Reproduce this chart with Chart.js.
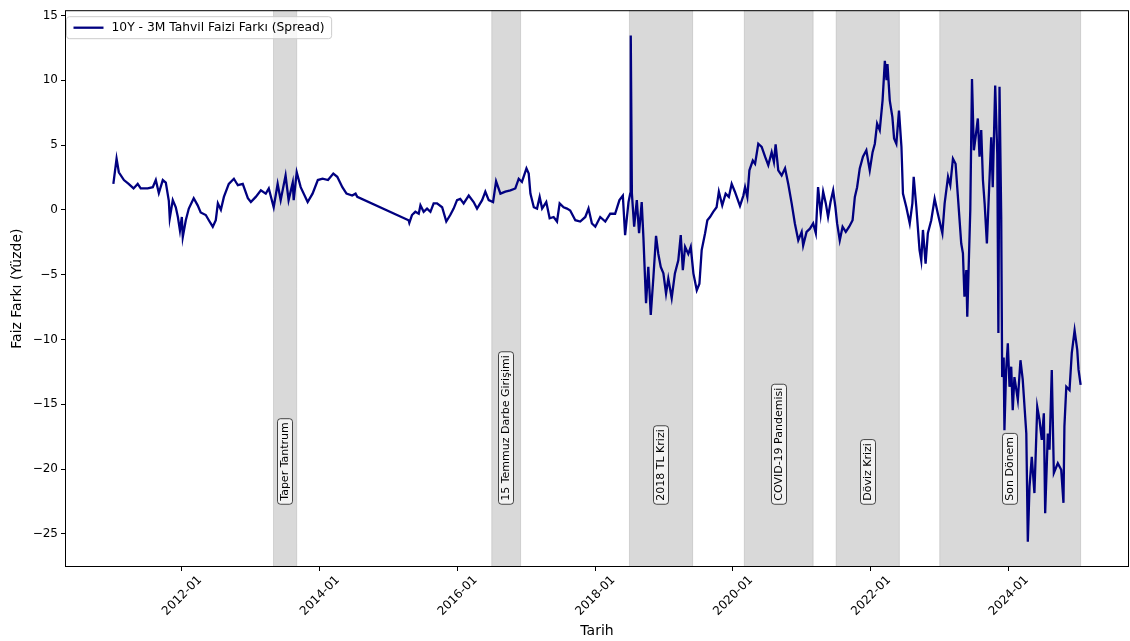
<!DOCTYPE html>
<html>
<head>
<meta charset="utf-8">
<script src="https://cdn.jsdelivr.net/npm/chart.js@4/dist/chart.umd.min.js"></script>
<style>
  html, body { margin: 0; padding: 0; background: #fff; }
  canvas { display: block; }
</style>
</head>
<body>
<canvas id="spread-chart" width="1130" height="641"></canvas>
<script>
// 10Y - 3M spread
const dates = [
  "2011-01-03", "2011-01-20", "2011-02-01", "2011-02-28", "2011-03-25", "2011-04-20", "2011-05-12", "2011-05-28",
  "2011-07-04", "2011-07-31", "2011-08-16", "2011-09-01", "2011-09-22", "2011-10-08", "2011-10-24", "2011-10-29",
  "2011-11-14", "2011-11-30", "2011-12-11", "2011-12-22", "2012-01-01", "2012-01-06", "2012-01-22", "2012-02-07",
  "2012-03-04", "2012-03-25", "2012-04-10", "2012-05-07", "2012-05-23", "2012-06-13", "2012-06-29", "2012-07-10",
  "2012-07-26", "2012-08-11", "2012-09-06", "2012-10-03", "2012-10-24", "2012-11-19", "2012-12-16", "2013-01-01",
  "2013-01-27", "2013-02-23", "2013-03-21", "2013-04-06", "2013-05-02", "2013-05-23", "2013-06-08", "2013-07-04",
  "2013-07-20", "2013-08-11", "2013-08-16", "2013-09-01", "2013-09-22", "2013-10-29", "2013-11-24", "2013-12-22",
  "2014-01-16", "2014-02-14", "2014-03-14", "2014-04-04", "2014-05-01", "2014-05-23", "2014-06-22", "2014-07-10",
  "2014-07-19", "2015-04-17", "2015-04-21", "2015-05-05", "2015-05-23", "2015-06-10", "2015-06-19", "2015-07-06",
  "2015-07-24", "2015-08-11", "2015-08-28", "2015-09-15", "2015-10-12", "2015-11-03", "2015-11-24", "2015-12-12",
  "2015-12-30", "2016-01-16", "2016-02-03", "2016-03-01", "2016-03-27", "2016-04-14", "2016-05-11", "2016-05-28",
  "2016-06-15", "2016-07-08", "2016-07-24", "2016-08-16", "2016-09-11", "2016-10-08", "2016-11-03", "2016-11-21",
  "2016-12-08", "2017-01-01", "2017-01-13", "2017-01-22", "2017-02-09", "2017-02-26", "2017-03-12", "2017-03-25",
  "2017-04-16", "2017-05-04", "2017-05-25", "2017-06-12", "2017-06-26", "2017-07-17", "2017-08-04", "2017-08-21",
  "2017-09-17", "2017-10-13", "2017-11-09", "2017-11-26", "2017-12-14", "2018-01-01", "2018-01-27", "2018-02-23",
  "2018-03-21", "2018-04-16", "2018-05-09", "2018-05-27", "2018-06-08", "2018-06-26", "2018-07-05", "2018-07-08",
  "2018-07-14", "2018-07-26", "2018-08-09", "2018-08-21", "2018-09-04", "2018-09-13", "2018-09-22", "2018-09-27",
  "2018-10-09", "2018-10-22", "2018-11-05", "2018-11-19", "2018-12-01", "2018-12-14", "2018-12-28", "2019-01-11",
  "2019-01-23", "2019-02-10", "2019-02-27", "2019-03-17", "2019-03-30", "2019-04-10", "2019-04-22", "2019-05-09",
  "2019-05-22", "2019-06-05", "2019-06-23", "2019-07-07", "2019-07-19", "2019-08-06", "2019-08-18", "2019-09-01",
  "2019-09-18", "2019-10-06", "2019-10-18", "2019-11-05", "2019-11-23", "2019-12-10", "2019-12-25", "2020-01-11",
  "2020-02-07", "2020-02-25", "2020-03-05", "2020-03-17", "2020-03-28", "2020-04-15", "2020-04-27", "2020-05-14",
  "2020-06-01", "2020-06-19", "2020-07-06", "2020-07-24", "2020-08-05", "2020-08-14", "2020-08-28", "2020-09-15",
  "2020-10-03", "2020-10-20", "2020-11-07", "2020-11-24", "2020-12-12", "2020-12-30", "2021-01-07", "2021-01-25",
  "2021-02-12", "2021-03-01", "2021-03-15", "2021-03-27", "2021-04-10", "2021-04-23", "2021-05-07", "2021-05-19",
  "2021-06-01", "2021-06-15", "2021-06-27", "2021-07-06", "2021-07-20", "2021-08-04", "2021-08-21", "2021-09-08",
  "2021-09-26", "2021-10-08", "2021-10-20", "2021-11-03", "2021-11-20", "2021-12-08", "2021-12-26", "2022-01-10",
  "2022-01-22", "2022-02-03", "2022-02-17", "2022-03-04", "2022-03-16", "2022-03-25", "2022-03-30", "2022-04-11",
  "2022-04-25", "2022-05-04", "2022-05-16", "2022-05-30", "2022-06-12", "2022-06-20", "2022-07-08", "2022-07-26",
  "2022-08-09", "2022-08-16", "2022-08-30", "2022-09-16", "2022-09-25", "2022-10-04", "2022-10-18", "2022-10-30",
  "2022-11-17", "2022-12-05", "2022-12-22", "2023-01-15", "2023-01-27", "2023-02-14", "2023-02-26", "2023-03-12",
  "2023-03-26", "2023-04-07", "2023-04-25", "2023-05-04", "2023-05-12", "2023-05-22", "2023-05-27", "2023-06-05",
  "2023-06-12", "2023-06-21", "2023-07-01", "2023-07-10", "2023-07-22", "2023-07-31", "2023-08-09", "2023-08-18",
  "2023-08-27", "2023-09-08", "2023-09-18", "2023-10-01", "2023-10-09", "2023-10-22", "2023-11-02", "2023-11-08",
  "2023-11-14", "2023-11-23", "2023-11-28", "2023-12-06", "2023-12-10", "2023-12-19", "2023-12-28", "2024-01-06",
  "2024-01-15", "2024-01-23", "2024-02-01", "2024-02-19", "2024-03-04", "2024-03-16", "2024-04-04", "2024-04-12",
  "2024-04-21", "2024-05-03", "2024-05-17", "2024-06-01", "2024-06-13", "2024-06-25", "2024-07-06", "2024-07-13",
  "2024-07-27", "2024-08-05", "2024-08-17", "2024-08-28", "2024-09-18", "2024-10-06", "2024-10-18", "2024-10-23",
  "2024-11-02", "2024-11-19", "2024-12-01", "2024-12-16", "2024-12-30", "2025-01-06", "2025-01-17"
];
const spread = [
  2.0, 3.95, 2.9, 2.3, 2.0, 1.65, 2.0, 1.65,
  1.65, 1.75, 2.3, 1.3, 2.3, 2.1, 0.7, -0.65,
  0.75, 0.2, -0.55, -1.6, -0.55, -2.1, -0.8, 0.1,
  0.9, 0.35, -0.2, -0.4, -0.8, -1.3, -0.8, 0.5,
  0.0, 1.0, 2.0, 2.4, 1.9, 2.0, 0.9, 0.6,
  1.0, 1.5, 1.25, 1.65, 0.2, 2.0, 0.75, 2.65,
  0.75, 2.1, 0.75, 2.9, 1.75, 0.6, 1.25, 2.3,
  2.4, 2.3, 2.8, 2.55, 1.75, 1.25, 1.1, 1.25,
  1.0, -0.8, -1.0, -0.4, -0.15, -0.3, 0.35, -0.15,
  0.1, -0.15, 0.5, 0.5, 0.2, -0.9, -0.4, 0.1,
  0.75, 0.85, 0.5, 1.1, 0.6, 0.1, 0.75, 1.4,
  0.75, 0.6, 2.2, 1.25, 1.4, 1.5, 1.65, 2.4,
  2.15, 3.2, 2.8, 1.25, 0.2, 0.1, 1.0, 0.1,
  0.6, -0.65, -0.55, -0.9, 0.5, 0.2, 0.1, -0.05,
  -0.8, -0.9, -0.55, 0.1, -1.05, -1.3, -0.55, -0.9,
  -0.3, -0.3, 0.75, 1.1, -1.95, 0.6, 1.25, 13.45,
  1.25, -1.3, 0.75, -1.8, 0.6, -2.1, -5.4, -7.2,
  -4.4, -8.1, -5.2, -2.0, -3.4, -4.4, -4.9, -6.45,
  -5.3, -6.8, -4.9, -3.9, -1.95, -4.65, -2.85, -3.4,
  -2.85, -4.9, -6.2, -5.7, -3.1, -1.8, -0.8, -0.55,
  -0.15, 0.2, 1.4, 0.35, 1.25, 1.0, 2.0, 1.4,
  0.3, 1.1, 1.75, 1.0, 3.05, 3.8, 3.55, 5.1,
  4.85, 4.1, 3.45, 4.45, 3.7, 5.05, 3.05, 2.65,
  3.2, 2.0, 0.5, -1.05, -2.35, -1.7, -2.75, -1.7,
  -1.45, -1.05, -1.8, 1.75, -0.3, 1.4, 0.5, -0.55,
  0.6, 1.5, 0.2, -1.05, -2.35, -1.3, -1.7, -1.3,
  -0.8, 1.0, 1.75, 3.2, 4.1, 4.6, 3.05, 4.45,
  5.1, 6.65, 6.15, 8.45, 11.5, 10.0, 11.25, 8.45,
  7.15, 5.5, 5.1, 7.65, 4.85, 1.25, 0.2, -1.05,
  0.5, 2.55, 0.2, -3.1, -3.9, -1.55, -4.15, -1.8,
  -0.8, 0.85, -0.3, -1.8, 0.5, 2.55, 1.9, 3.95,
  3.55, 1.1, -2.6, -3.35, -6.7, -4.65, -8.25, -3.6,
  0.0, 10.1, 4.6, 5.6, 7.05, 4.1, 6.15, 2.3,
  0.5, -2.6, 1.0, 5.6, 1.75, 9.6, 4.35, -9.5,
  9.5, -0.55, -12.9, -11.4, -17.0, -12.35, -10.3, -13.65,
  -12.1, -15.45, -12.9, -14.65, -11.6, -13.1, -17.25, -25.6,
  -21.35, -19.05, -21.85, -15.2, -16.2, -17.75, -15.7, -23.4,
  -17.25, -18.5, -12.35, -20.3, -19.55, -20.05, -22.6, -16.7,
  -13.65, -13.9, -11.05, -9.3, -10.8, -12.35, -13.5
];

// shaded periods
const periodNames = ["Taper Tantrum", "15 Temmuz Darbe Girişimi", "2018 TL Krizi", "COVID-19 Pandemisi", "Döviz Krizi", "Son Dönem"];
const periodStarts = ["2013-05-01", "2016-07-01", "2018-07-01", "2020-03-01", "2021-07-01", "2023-01-01"];
const periodEnds = ["2013-09-01", "2016-12-01", "2019-06-01", "2021-03-01", "2022-06-01", "2025-01-17"];

const tickYears = [2012, 2014, 2016, 2018, 2020, 2022, 2024];
const yTicks = [-25, -20, -15, -10, -5, 0, 5, 10, 15];

const legendLabel = "10Y - 3M Tahvil Faizi Farkı (Spread)";
const FONT = "'DejaVu Sans', sans-serif";

const toMs = (d) => Date.parse(d + "T00:00:00Z");
const points = dates.map((d, i) => ({ x: toMs(d), y: spread[i] }));

// matplotlib style 5% margins
const xs = points.map((p) => p.x);
const xMin = Math.min(...xs), xMax = Math.max(...xs);
const yMin = Math.min(...spread), yMax = Math.max(...spread);
const xPad = (xMax - xMin) * 0.05;
const yPad = (yMax - yMin) * 0.05;

function roundRect(ctx, x, y, w, h, r) {
  ctx.beginPath();
  ctx.moveTo(x + r, y);
  ctx.lineTo(x + w - r, y);
  ctx.quadraticCurveTo(x + w, y, x + w, y + r);
  ctx.lineTo(x + w, y + h - r);
  ctx.quadraticCurveTo(x + w, y + h, x + w - r, y + h);
  ctx.lineTo(x + r, y + h);
  ctx.quadraticCurveTo(x, y + h, x, y + h - r);
  ctx.lineTo(x, y + r);
  ctx.quadraticCurveTo(x, y, x + r, y);
  ctx.closePath();
}

const bandsPlugin = {
  id: "bands",
  beforeDatasetsDraw(chart) {
    const { ctx, chartArea: ca, scales } = chart;
    ctx.save();
    periodStarts.forEach((s, i) => {
      const x1 = scales.x.getPixelForValue(toMs(s));
      const x2 = scales.x.getPixelForValue(toMs(periodEnds[i]));
      ctx.fillStyle = "rgba(128,128,128,0.3)";
      ctx.fillRect(x1, ca.top, x2 - x1, ca.bottom - ca.top);
      ctx.strokeStyle = "rgba(128,128,128,0.25)";
      ctx.lineWidth = 1;
      ctx.beginPath();
      ctx.moveTo(x1, ca.top); ctx.lineTo(x1, ca.bottom);
      ctx.moveTo(x2, ca.top); ctx.lineTo(x2, ca.bottom);
      ctx.stroke();
    });
    ctx.restore();
  },
};

const overlayPlugin = {
  id: "overlay",
  afterDatasetsDraw(chart) {
    const { ctx, chartArea: ca, scales } = chart;
    ctx.save();

    // period labels, vertical in a rounded box
    ctx.font = "11px " + FONT;
    const baseY = scales.y.getPixelForValue(-22.75);
    periodStarts.forEach((s, i) => {
      const x1 = scales.x.getPixelForValue(toMs(s));
      const x2 = scales.x.getPixelForValue(toMs(periodEnds[i]));
      const cx = (x1 + x2) / 2;
      const w = ctx.measureText(periodNames[i]).width;
      ctx.save();
      ctx.translate(Math.round(cx), baseY);
      ctx.rotate(-Math.PI / 2);
      roundRect(ctx, 0.5, -7.5, w + 7, 15, 3);
      ctx.fillStyle = "rgba(255,255,255,0.7)";
      ctx.fill();
      ctx.strokeStyle = "rgba(0,0,0,0.7)";
      ctx.lineWidth = 1;
      ctx.stroke();
      ctx.fillStyle = "#000";
      ctx.textAlign = "left";
      ctx.textBaseline = "middle";
      ctx.fillText(periodNames[i], 4, 0.5);
      ctx.restore();
    });

    // legend
    ctx.font = "12.3px " + FONT;
    const tw = ctx.measureText(legendLabel).width;
    const lx = ca.left + 1.5, ly = ca.top + 6.5;
    roundRect(ctx, lx, ly, tw + 52, 22, 3);
    ctx.fillStyle = "rgba(255,255,255,0.8)";
    ctx.fill();
    ctx.strokeStyle = "#cccccc";
    ctx.lineWidth = 1;
    ctx.stroke();
    ctx.strokeStyle = "#000080";
    ctx.lineWidth = 2.3;
    ctx.beginPath();
    ctx.moveTo(lx + 7, ly + 11);
    ctx.lineTo(lx + 37, ly + 11);
    ctx.stroke();
    ctx.fillStyle = "#000";
    ctx.textAlign = "left";
    ctx.textBaseline = "middle";
    ctx.fillText(legendLabel, lx + 45, ly + 11.5);

    // axes frame
    ctx.strokeStyle = "#000";
    ctx.lineWidth = 1;
    ctx.strokeRect(ca.left + 0.5, ca.top + 0.5, ca.right - ca.left - 1, ca.bottom - ca.top - 1);
    ctx.restore();
  },
};

const ctx = document.getElementById("spread-chart").getContext("2d");
new Chart(ctx, {
  type: "line",
  data: {
    datasets: [
      {
        label: legendLabel,
        data: points,
        borderColor: "#000080",
        backgroundColor: "#000080",
        borderWidth: 2.3,
        pointRadius: 0,
        tension: 0,
        fill: false,
      },
    ],
  },
  options: {
    responsive: false,
    animation: false,
    devicePixelRatio: 1,
    layout: { padding: { top: 10, right: 1, left: 0, bottom: 0 } },
    plugins: {
      legend: { display: false },
      tooltip: { enabled: false },
    },
    scales: {
      x: {
        type: "linear",
        min: xMin - xPad,
        max: xMax + xPad,
        afterBuildTicks: (scale) => {
          scale.ticks = tickYears.map((y) => ({ value: Date.UTC(y, 0, 1) }));
        },
        afterFit: (scale) => {
          scale.height = 74;
        },
        grid: { drawOnChartArea: false, drawTicks: true, tickLength: 4, color: "#000" },
        border: { display: false },
        ticks: {
          color: "#000",
          font: { family: FONT, size: 12 },
          minRotation: 45,
          maxRotation: 45,
          labelOffset: 18,
          padding: 2,
          callback: (v) => {
            const d = new Date(v);
            return d.getUTCFullYear() + "-" + String(d.getUTCMonth() + 1).padStart(2, "0");
          },
        },
        title: {
          display: true,
          text: "Tarih",
          color: "#000",
          font: { family: FONT, size: 14 },
          padding: { top: 0, bottom: 1 },
        },
      },
      y: {
        min: yMin - yPad,
        max: yMax + yPad,
        afterBuildTicks: (scale) => {
          scale.ticks = yTicks.map((v) => ({ value: v }));
        },
        afterFit: (scale) => {
          scale.width = 65;
        },
        grid: { drawOnChartArea: false, drawTicks: true, tickLength: 4, color: "#000" },
        border: { display: false },
        ticks: {
          color: "#000",
          font: { family: FONT, size: 12 },
          padding: 3,
          callback: (v) => (v < 0 ? "\u2212" + Math.abs(v) : String(v)),
        },
        title: {
          display: true,
          text: "Faiz Farkı (Yüzde)",
          color: "#000",
          font: { family: FONT, size: 14 },
          padding: { top: 9, bottom: 0 },
        },
      },
    },
  },
  plugins: [bandsPlugin, overlayPlugin],
});
</script>
</body>
</html>
